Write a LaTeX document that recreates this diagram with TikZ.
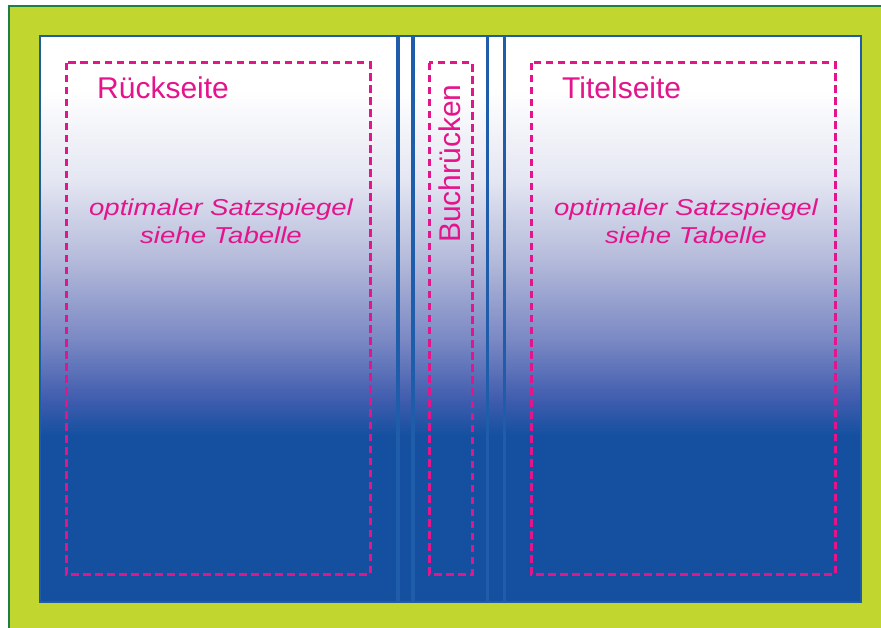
\documentclass[tikz,border=0pt]{standalone}
\usepackage{fontspec}
\setmainfont{Liberation Sans}
\newfontfamily\widefont[FakeStretch=1.2]{Liberation Sans}
\definecolor{lime}{HTML}{C1D72F}
\definecolor{darkgreen}{HTML}{1E7F45}
\definecolor{panelblue}{HTML}{1550A0}
\definecolor{edgeblue}{HTML}{1F5CAA}
\definecolor{magentaink}{HTML}{E4148C}
\pgfdeclareverticalshading{panelshade}{100bp}{%
  color(0bp)=(panelblue); color(39.75bp)=(panelblue);
  color(42.84bp)=(rgb,255:red,63;green,92;blue,174);
  color(48.14bp)=(rgb,255:red,122;green,136;blue,196);
  color(55.21bp)=(rgb,255:red,180;green,186;blue,218);
  color(62.28bp)=(rgb,255:red,228;green,230;blue,242);
  color(70.23bp)=(white); color(100bp)=(white)}
\tikzset{
  guide/.style={draw=magentaink, line width=3pt, dash pattern=on 7.5pt off 4.5pt},
  fold/.style={draw=edgeblue},
  title/.style={text=magentaink, font=\fontsize{30}{34}\selectfont, inner sep=0pt},
  note/.style={text=magentaink, font=\widefont\itshape\fontsize{23}{28}\selectfont, align=center, inner sep=0pt}
}
\begin{document}
\begin{tikzpicture}[x=1pt,y=-1pt]
\useasboundingbox (0,0) rectangle (881,628);
% outer frame
\fill[lime] (9,6) rectangle (881,628);
\draw[darkgreen, line width=2.5pt] (9,628) -- (9,6) -- (881,6);
% cover panel
\shade[shading=panelshade] (40,36) rectangle (861,602);
% fold lines
\draw[fold, line width=4pt] (397.5,36) -- (397.5,602);
\draw[fold, line width=4pt] (412.5,36) -- (412.5,602);
\draw[fold, line width=3pt] (487.5,36) -- (487.5,602);
\draw[fold, line width=3.5pt] (504.5,36) -- (504.5,602);
\draw[edgeblue, line width=2.5pt] (40,36) rectangle (861,602);
% guide boxes
\draw[guide] (66,63) rectangle (370,574);
\draw[guide] (429,63) rectangle (472,574);
\draw[guide] (531,63) rectangle (835,574);
% texts
\node[title, anchor=base west] (back) at (97,99) {Rückseite};
\node[title, anchor=base west] (front) at (562,99) {Titelseite};
\node[title, anchor=base west, rotate=90] (spine) at (460,243) {Buchrücken};
\node[note, anchor=base] (backnote) at (221,244) {optimaler Satzspiegel\\siehe Tabelle};
\node[note, anchor=base] (frontnote) at (686,244) {optimaler Satzspiegel\\siehe Tabelle};
\end{tikzpicture}
\end{document}
